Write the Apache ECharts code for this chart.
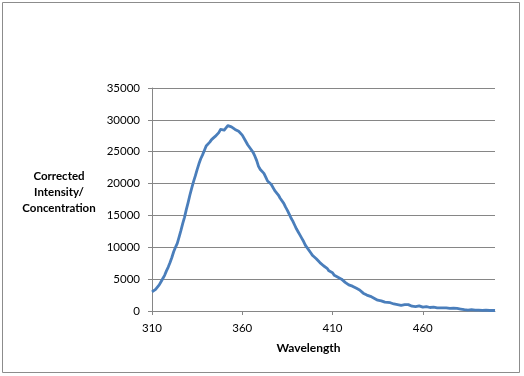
<!DOCTYPE html>
<html>
<head>
<meta charset="utf-8">
<script src="https://cdn.jsdelivr.net/npm/echarts@6/dist/echarts.min.js"></script>
<style>
html,body{margin:0;padding:0;background:#fff;}
#chart{width:524px;height:376px;}
</style>
</head>
<body>
<div id="chart"></div>
<script>
const wavelength = [310,311,312,313,314,315,316,317,318,319,320,321,322,323,324,325,326,327,328,329,330,331,332,333,334,335,336,337,338,339,340,341,342,343,344,345,346,347,348,349,350,351,352,353,354,355,356,357,358,359,360,361,362,363,364,365,366,367,368,369,370,371,372,373,374,375,376,377,378,379,380,381,382,383,384,385,386,387,388,389,390,391,392,393,394,395,396,397,398,399,400,401,402,403,404,405,406,407,408,409,410,411,412,413,414,415,416,417,418,419,420,421,422,423,424,425,426,427,428,429,430,431,432,433,434,435,436,437,438,439,440,442,444,446,448,450,452,454,456,458,460,462,464,466,468,469,471,473,475,477,479,481,483,485,487,489,491,493,495,497,499,500];
const intensity = [3000,3100,3400,3700,4100,4600,5100,5600,6300,6900,7600,8400,9300,10000,10600,11600,12600,13700,14700,15900,17000,18200,19300,20300,21200,22200,23100,23900,24500,25200,25900,26200,26500,26900,27200,27400,27700,28000,28500,28700,28400,28700,29100,28900,28900,28700,28500,28600,28200,27900,27600,27300,26600,26100,25700,25300,24900,24300,23600,22700,22200,21900,21600,21000,20400,20200,19900,19600,18900,18600,18200,17700,17400,16900,16300,15800,15200,14600,14100,13500,12900,12400,11900,11400,10900,10300,9900,9600,9100,8700,8400,8200,7900,7600,7500,7100,6900,6700,6300,6100,6000,5600,5300,5300,5200,5000,4700,4500,4300,4100,4000,3900,3800,3600,3500,3300,3100,2800,2700,2500,2400,2300,2100,2000,1800,1700,1700,1600,1500,1400,1300,1300,1100,1000,900,1000,1000,750,700,800,600,700,550,600,500,750,500,500,400,450,400,300,200,150,200,150,150,100,150,80,100,80];
const xTickValues = [310,360,410,460];
const xTitle = 'Wavelength';
const yTitle = 'Corrected\nIntensity/\nConcentration';

const seriesData = wavelength.map((w, i) => [w, intensity[i]]);
const chart = echarts.init(document.getElementById('chart'), null, {renderer: 'canvas'});
const gray = '#868686';
const font = 'Lato, sans-serif';
chart.setOption({
  animation: false,
  backgroundColor: '#fff',
  textStyle: {fontFamily: font},
  graphic: [{
    type: 'rect', silent: true,
    shape: {x: 2.5, y: 2.5, width: 517, height: 370},
    style: {fill: 'none', stroke: '#8c8c8c', lineWidth: 1}
  }, {
    type: 'text', silent: true,
    x: 59, y: 192,
    style: {
      text: yTitle, fill: '#000', font: 'bold 11.5px Lato, sans-serif',
      align: 'center', verticalAlign: 'middle', lineHeight: 16
    }
  }],
  grid: {left: 152, right: 29, top: 88, bottom: 65, containLabel: false},
  xAxis: {
    type: 'value', min: 310, max: 500,
    name: xTitle, nameLocation: 'middle', nameGap: 31,
    nameTextStyle: {fontFamily: font, fontSize: 12, fontWeight: 'bold', color: '#000', padding: [0, 30, 0, 0]},
    axisLine: {show: true, lineStyle: {color: gray, width: 1}},
    axisTick: {show: true, length: 4, customValues: xTickValues, lineStyle: {color: gray}},
    axisLabel: {customValues: xTickValues, margin: 11, color: '#000', fontFamily: font, fontSize: 11.5},
    splitLine: {show: false}
  },
  yAxis: {
    type: 'value', min: 0, max: 35000, interval: 5000,
    axisLine: {show: true, lineStyle: {color: gray, width: 1}},
    axisTick: {show: true, length: 4, lineStyle: {color: gray}},
    axisLabel: {margin: 12, color: '#000', fontFamily: font, fontSize: 11.5, formatter: v => String(v)},
    splitLine: {show: true, lineStyle: {color: gray, width: 1}}
  },
  series: [{
    type: 'line',
    data: seriesData,
    showSymbol: false,
    symbol: 'none',
    lineStyle: {color: '#4A7EBB', width: 2.8, join: 'round'},
    itemStyle: {color: '#4A7EBB'},
    smooth: false
  }]
});
</script>
</body>
</html>
